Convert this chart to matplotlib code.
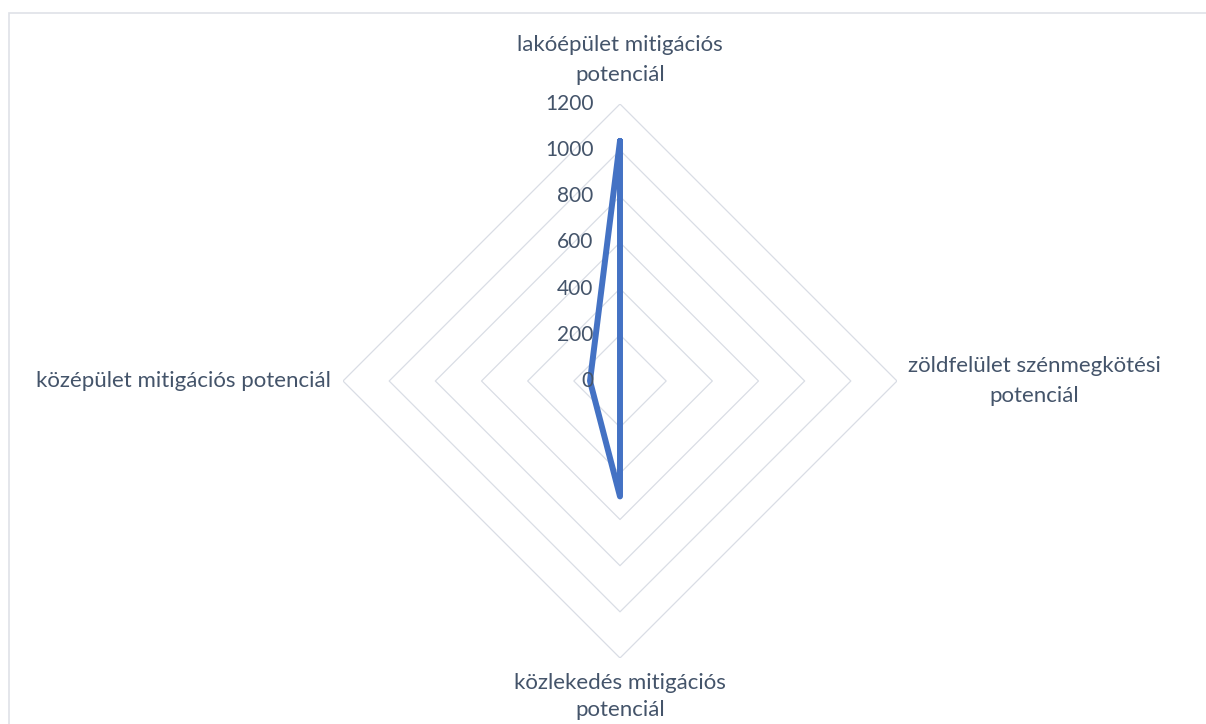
import numpy as np
import matplotlib
matplotlib.use("Agg")
import matplotlib.pyplot as plt
from matplotlib.patches import Rectangle

categories = ["lakóépület mitigációs\npotenciál",
              "zöldfelület szénmegkötési\npotenciál",
              "közlekedés mitigációs\npotenciál",
              "középület mitigációs potenciál"]
values = [1040, 0, 500, 130]
ticks = [0, 200, 400, 600, 800, 1000, 1200]

TXT = "#44546A"
GRID = "#D9DDE5"
BORDER = "#DFE2E7"
LINE = "#4472C4"
plt.rcParams['font.family'] = ['Lato', 'DejaVu Sans']

W, H = 1206, 724
fig = plt.figure(figsize=(W / 100, H / 100), dpi=100)
fig.patch.set_facecolor("white")
fig.patches.append(Rectangle((8.5 / W, -0.1), 1.2, (H - 13) / H + 0.1, transform=fig.transFigure,
                             fill=False, edgecolor=BORDER, linewidth=1.2))

cx, cy, R = 620, 381, 277
ax = fig.add_axes([(cx - R) / W, (H - cy - R) / H, 2 * R / W, 2 * R / H], projection="polar")
ax.set_theta_offset(np.pi / 2)
ax.set_theta_direction(-1)
ax.set_ylim(0, ticks[-1])
ax.grid(False)
ax.spines['polar'].set_visible(False)
ax.set_xticks([])
ax.set_yticks([])
ax.patch.set_alpha(0)

n = len(categories)
theta = np.arange(n) * 2 * np.pi / n
tc = np.concatenate([theta, theta[:1]])

for t in ticks[1:]:
    ax.plot(tc, [t] * (n + 1), color=GRID, linewidth=0.9, zorder=1)

vc = values + values[:1]
ax.plot(tc, vc, color=LINE, linewidth=4.3, solid_joinstyle='round', solid_capstyle='round', zorder=3)

for t in ticks:
    ax.annotate(str(t), xy=(0, t), xytext=(-19, 0), textcoords='offset points',
                ha='right', va='center', fontsize=15, color=TXT, zorder=4)

offs = [(0, 14, 'center', 'bottom', 1.6), (8, 0, 'left', 'center', 1.6),
        (0, -11, 'center', 'top', 1.45), (-9, 0, 'right', 'center', 1.6)]
for th, lab, (dx, dy, ha, va, ls) in zip(theta, categories, offs):
    ax.annotate(lab, xy=(th, ticks[-1]), xytext=(dx, dy), textcoords='offset points',
                ha=ha, va=va, multialignment='center', fontsize=16, color=TXT,
                linespacing=ls, annotation_clip=False)

fig.savefig("out.png", dpi=100, facecolor="white")
